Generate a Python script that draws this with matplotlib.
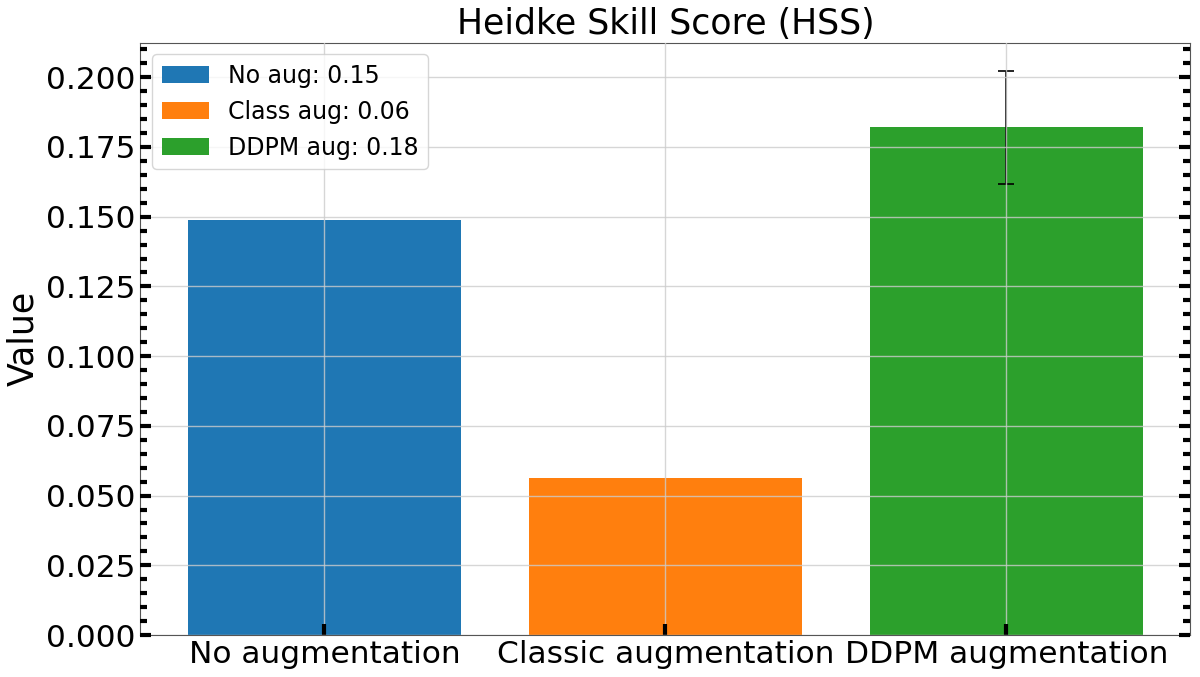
import matplotlib
matplotlib.use("Agg")
import matplotlib.pyplot as plt
from matplotlib.ticker import MultipleLocator, AutoMinorLocator

categories = ["No augmentation", "Classic augmentation", "DDPM augmentation"]
values = [0.1487, 0.0564, 0.1820]
errors = [0.0, 0.0, 0.0203]
legend_labels = ["No aug: 0.15", "Class aug: 0.06", "DDPM aug: 0.18"]
colors = ["#1f77b4", "#ff7f0e", "#2ca02c"]

fig, ax = plt.subplots(figsize=(12, 6.77), dpi=100)
x = list(range(len(categories)))
for i in x:
    ax.bar(i, values[i], color=colors[i], label=legend_labels[i],
           yerr=errors[i] if errors[i] > 0 else None, capsize=6,
           error_kw=dict(elinewidth=1.2, capthick=1.2, ecolor="black"))

ax.set_xticks(x)
ax.set_xticklabels(categories)
ax.set_title("Heidke Skill Score (HSS)", fontsize=25)
ax.set_ylabel("Value", fontsize=25)
ax.yaxis.set_major_locator(MultipleLocator(0.025))
ax.yaxis.set_minor_locator(AutoMinorLocator(5))
ax.tick_params(axis="both", which="major", labelsize=22.5, direction="in",
               length=8, width=3, right=True)
ax.tick_params(axis="y", which="minor", direction="in", length=5, width=3,
               left=True, right=True)
ax.grid(True, color="#cccccc", alpha=0.8, linewidth=1)
ax.set_axisbelow(False)
for s in ax.spines.values():
    s.set_color("#555555")
ax.legend(loc="upper left", fontsize=17)
fig.subplots_adjust(left=0.117, right=0.992, top=0.937, bottom=0.062)
fig.savefig("out.png", dpi=100)
